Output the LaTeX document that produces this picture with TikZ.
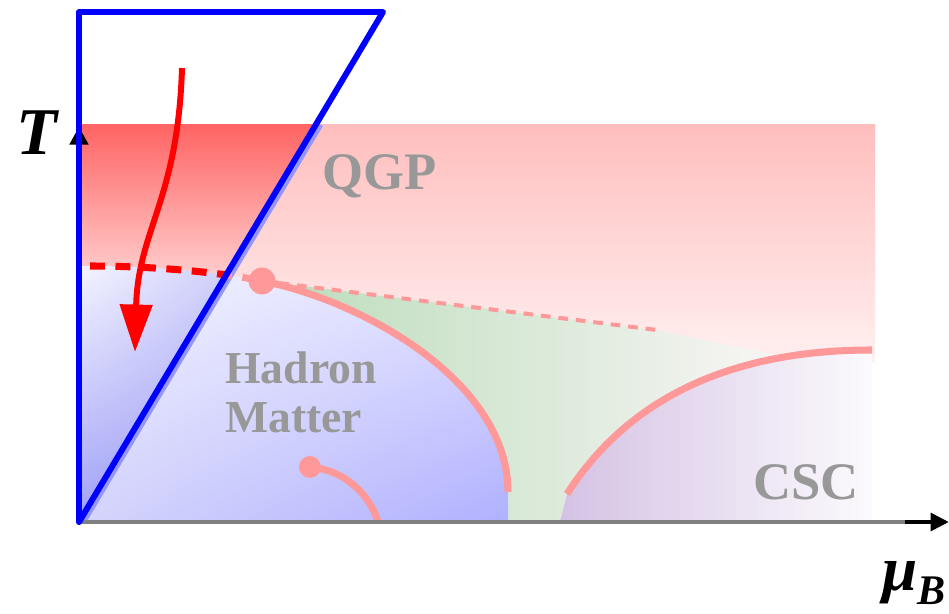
\documentclass[tikz,border=0pt]{standalone}
\usepackage{fontspec}
\setmainfont{Liberation Serif}
\usetikzlibrary{arrows.meta, shadings}
\definecolor{linepink}{RGB}{255,152,152}
\definecolor{labelgray}{RGB}{152,152,152}
\definecolor{axisgray}{RGB}{128,128,128}
\definecolor{shadowblue}{RGB}{150,150,255}
\definecolor{qgptop}{RGB}{255,190,190}
\definecolor{qgpbottom}{RGB}{255,240,240}
\definecolor{qgpdeep}{RGB}{255,100,100}
\definecolor{qgpdeeplow}{RGB}{255,204,204}
\definecolor{mixleft}{RGB}{186,220,186}
\definecolor{mixmid}{RGB}{204,230,204}
\definecolor{mixright}{RGB}{250,246,246}
\definecolor{cscleft}{RGB}{212,194,228}
\definecolor{cscright}{RGB}{252,250,253}
\definecolor{hadUL}{RGB}{244,244,255}
\definecolor{hadUR}{RGB}{226,226,255}
\definecolor{hadLL}{RGB}{212,212,252}
\definecolor{hadLR}{RGB}{176,176,255}
\definecolor{deepUR}{RGB}{184,184,248}
\definecolor{deepLL}{RGB}{160,160,248}
\definecolor{deepLR}{RGB}{140,140,240}
\tikzset{
  phaseline/.style={linepink, line width=4pt},
  phaselabel/.style={labelgray, font=\fontsize{30}{30}\selectfont\bfseries},
  critpoint/.style={circle, fill=linepink, inner sep=0pt, minimum size=#1},
}

\begin{document}
\begin{tikzpicture}[x=0.02cm, y=-0.02cm]
        \useasboundingbox (0,0) rectangle (949,614);

        \coordinate (O) at (79,522);
        \coordinate (cp) at (262,281);
        \coordinate (tp) at (310,467);
        \coordinate (hadend) at (508,492);
        \coordinate (cscstart) at (567,494);
        \coordinate (cscend) at (872,350);

        % phases
        \shade[top color=qgptop, bottom color=qgpbottom] (79,125) rectangle (875,362);
        \shade[left color=mixleft, middle color=mixmid, right color=mixright]
            (cp) -- (657,330) -- (790,358) -- (790,522) -- (508,522) -- (hadend) .. controls (508,380) and (360,300) .. (cp);
        \shade[left color=cscleft, right color=cscright]
            (560,522) -- (cscstart) .. controls (640,380) and (760,350) .. (cscend) -- (872,522) -- cycle;
        \shade[upper left=hadUL, upper right=hadUR, lower left=hadLL, lower right=hadLR]
            (79,266) -- (90,266) .. controls (150,266) and (220,272) .. (cp) .. controls (360,300) and (508,380) .. (hadend) -- (508,522) -- (O) -- cycle;
        \draw[shadowblue, line width=2.5pt] (321,125) -- (84,522);

        % lines
        \draw[linepink, line width=4pt, dash pattern=on 8.5pt off 6pt] (90,266) .. controls (150,266) and (220,272) .. (cp);
        \draw[linepink, line width=2.3pt, dash pattern=on 5.5pt off 4.5pt] (cp) -- (657,330);
        \draw[phaseline] (cp) .. controls (360,300) and (508,380) .. (hadend);
        \draw[phaseline] (cscstart) .. controls (640,380) and (760,350) .. (cscend);
        \draw[phaseline] (tp) .. controls (345,470) and (370,495) .. (378,522);
        \node[critpoint=0.54cm] (cpdot) at (cp) {};
        \node[critpoint=0.44cm] (tpdot) at (tp) {};

        % inside the trapezoid
        \begin{scope}
            \clip (O) -- (79,12) -- (383,12) -- cycle;
            \shade[top color=qgpdeep, bottom color=qgpdeeplow] (79,125) rectangle (330,275);
            \shade[upper left=hadUL, upper right=deepUR, lower left=deepLL, lower right=deepLR]
                (79,266) -- (90,266) .. controls (150,266) and (220,272) .. (cp) -- (330,522) -- (O) -- cycle;
            \draw[red, line width=4pt, dash pattern=on 8.5pt off 6pt] (90,266) .. controls (150,266) and (220,272) .. (cp);
        \end{scope}

        % axes
        \draw[axisgray, line width=2.5pt] (O) -- (915,522);
        \draw[black, line width=2.5pt][-{Triangle[length=10.5pt,width=10pt]}] (905,522) -- (949,522);
        \draw[black, line width=2pt][-{Triangle[length=10pt,width=10.5pt]}] (O) -- (79,127);
        \draw[blue, line width=3.4pt, line join=round, line cap=round] (O) -- (79,12) -- (383,12) -- cycle;

        \draw[red, line width=3.4pt][-{Triangle[length=27pt,width=18pt]}] (182,68) .. controls (178,200) and (138,230) .. (135,352);

        % labels
        \node[phaselabel] (qgp) at (380,176) {QGP};
        \node[phaselabel, font=\fontsize{26}{28}\selectfont\bfseries, align=left] (hadron) at (301,392) {Hadron\\Matter};
        \node[phaselabel] (csc) at (806,482) {CSC};
        \node[font=\fontsize{38}{38}\selectfont\bfseries\itshape] (taxis) at (37,133) {T};
        \node[anchor=base west, inner sep=0pt, font=\fontsize{36}{36}\selectfont\bfseries\itshape] (muaxis) at (882,590) {μ\raisebox{-8pt}{\fontsize{24}{24}\selectfont B}};
\end{tikzpicture}
\end{document}
